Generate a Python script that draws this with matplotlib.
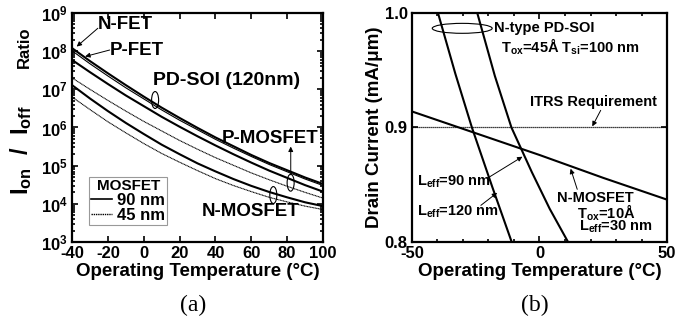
import math
import matplotlib
matplotlib.use("Agg")
import matplotlib.pyplot as plt
from matplotlib.patches import Ellipse
from matplotlib.lines import Line2D
from matplotlib.ticker import FuncFormatter, LogLocator, MultipleLocator

plt.rcParams['font.family'] = 'Liberation Sans'
plt.rcParams['font.weight'] = 'bold'
plt.rcParams['axes.labelweight'] = 'bold'
plt.rcParams['axes.unicode_minus'] = False
plt.rcParams['mathtext.fontset'] = 'custom'
plt.rcParams['mathtext.rm'] = 'Liberation Sans:bold'
plt.rcParams['mathtext.it'] = 'Liberation Sans:bold'
plt.rcParams['mathtext.bf'] = 'Liberation Sans:bold'

# (a) Ion/Ioff ratio vs temperature  (values are log10 of the ratio)
temp_a = [-40, -30, -20, -10, 0, 10, 20, 30, 40, 50, 60, 70, 80, 90, 100]
soi_nfet = [8.08, 7.74, 7.42, 7.11, 6.81, 6.52, 6.25, 5.99, 5.74, 5.51, 5.28, 5.07, 4.88, 4.69, 4.52]
soi_pfet = [8.01, 7.67, 7.35, 7.04, 6.75, 6.46, 6.19, 5.94, 5.69, 5.46, 5.24, 5.03, 4.84, 4.65, 4.48]
pmos_90 = [7.77, 7.45, 7.14, 6.84, 6.56, 6.28, 6.02, 5.77, 5.53, 5.30, 5.08, 4.87, 4.68, 4.49, 4.32]
pmos_45 = [7.30, 7.00, 6.71, 6.43, 6.16, 5.91, 5.66, 5.43, 5.21, 5.01, 4.81, 4.63, 4.46, 4.30, 4.15]
nmos_90 = [7.11, 6.76, 6.43, 6.12, 5.83, 5.55, 5.30, 5.06, 4.85, 4.65, 4.47, 4.31, 4.17, 4.04, 3.94]
nmos_45 = [6.80, 6.47, 6.15, 5.86, 5.58, 5.32, 5.09, 4.87, 4.66, 4.48, 4.32, 4.17, 4.05, 3.94, 3.85]

# (b) drain current vs temperature (mA/um)
temp_nmos = [-50, -25, 0, 25, 50]
id_nmos = [0.914, 0.895, 0.876, 0.856, 0.837]
temp_120 = [-39.8, -33, -26.5, -18.5, -10.9]
id_120 = [1.0, 0.947, 0.9, 0.848, 0.8]
temp_90 = [-24.4, -17.5, -11, -3, 4, 11.2]
id_90 = [1.0, 0.945, 0.9, 0.861, 0.829, 0.8]
itrs = 0.9

fig = plt.figure(figsize=(6.88, 3.28), dpi=100)
ax1 = fig.add_axes([0.1047, 0.2622, 0.3648, 0.6982])
ax2 = fig.add_axes([0.5988, 0.2622, 0.3707, 0.6982])

def p10(vals):
    return [10 ** v for v in vals]

thick = 1.5
thin = 0.8
ax1.plot(temp_a, p10(soi_nfet), color='k', lw=thick)
ax1.plot(temp_a, p10(soi_pfet), color='k', lw=thin)
ax1.plot(temp_a, p10(pmos_90), color='k', lw=thick)
ax1.plot(temp_a, p10(pmos_45), color='k', lw=thin, ls=(0, (1, 0.4)))
ax1.plot(temp_a, p10(nmos_90), color='k', lw=thick)
ax1.plot(temp_a, p10(nmos_45), color='k', lw=thin, ls=(0, (1, 0.4)))

ax1.set_yscale('log')
ax1.set_xlim(-40, 100)
ax1.set_ylim(1e3, 1e9)
ax1.set_xticks(range(-40, 101, 20))
ax1.yaxis.set_major_locator(LogLocator(base=10, numticks=10))
ax1.yaxis.set_minor_locator(LogLocator(base=10, subs=range(2, 10), numticks=10))
ax1.yaxis.set_major_formatter(FuncFormatter(lambda v, p: r'$10^{%d}$' % round(math.log10(v))))
ax1.set_xlabel('Operating Temperature (°C)', fontsize=13.5, labelpad=1)
ax1.text(-0.205, 0.40, r'$I_{on}$  /  $I_{off}$', transform=ax1.transAxes, rotation=90,
         ha='center', va='center', fontsize=17)
ax1.text(-0.19, 0.85, 'Ratio', transform=ax1.transAxes, rotation=90,
         ha='center', va='center', fontsize=12)

arrow = dict(arrowstyle='-|>', color='k', lw=0.7, mutation_scale=7, shrinkA=0, shrinkB=0)
ax1.text(-25.5, 10 ** 8.69, 'N-FET', fontsize=13.5, ha='left', va='center')
ax1.annotate('', xy=(-37.4, 10 ** 8.12), xytext=(-25.6, 10 ** 8.6), arrowprops=arrow)
ax1.text(-18.8, 10 ** 8.03, 'P-FET', fontsize=13.5, ha='left', va='center')
ax1.annotate('', xy=(-32.7, 10 ** 7.86), xytext=(-19.0, 10 ** 8.03), arrowprops=arrow)
ax1.text(5.2, 10 ** 7.24, 'PD-SOI (120nm)', fontsize=14, ha='left', va='center')
ax1.text(43.6, 10 ** 5.72, 'P-MOSFET', fontsize=13.5, ha='left', va='center')
ax1.annotate('', xy=(82, 10 ** 5.5), xytext=(82, 10 ** 4.76), arrowprops=arrow)
ax1.text(32.3, 10 ** 3.79, 'N-MOSFET', fontsize=13.5, ha='left', va='center')
for cx, cy in [(0.331, 0.620), (0.871, 0.259), (0.802, 0.205)]:
    ax1.add_patch(Ellipse((cx, cy), 0.028, 0.074, transform=ax1.transAxes,
                          fill=False, color='k', lw=0.8))

h90 = Line2D([], [], color='k', lw=1.2)
h45 = Line2D([], [], color='k', lw=1.0, ls=(0, (1, 0.6)))
leg = ax1.legend([h90, h45], ['90 nm', '45 nm'], title='MOSFET', loc='lower left',
                 bbox_to_anchor=(0.035, 0.04), frameon=True, fancybox=False,
                 edgecolor='gray', handlelength=1.3, handletextpad=0.3,
                 borderpad=0.1, labelspacing=0.0, fontsize=12,
                 title_fontproperties={'weight': 'bold', 'size': 11})
leg.get_frame().set_linewidth(0.8)

# (b)
ax2.plot(temp_nmos, id_nmos, color='k', lw=thick)
ax2.plot(temp_120, id_120, color='k', lw=thick)
ax2.plot(temp_90, id_90, color='k', lw=thick)
ax2.axhline(itrs, color='k', lw=0.9, ls=(0, (1, 0.6)))
ax2.set_xlim(-50, 50)
ax2.set_ylim(0.8, 1.0)
ax2.set_xticks([-50, 0, 50])
ax2.xaxis.set_minor_locator(MultipleLocator(10))
ax2.set_yticks([0.8, 0.9, 1.0])
ax2.yaxis.set_major_formatter(FuncFormatter(lambda v, p: '%.1f' % v))
ax2.set_xlabel('Operating Temperature (°C)', fontsize=13.5, labelpad=1)
ax2.set_ylabel('Drain Current (mA/μm)', fontsize=13.5, labelpad=1)

ax2.add_patch(Ellipse((-30.3, 0.9866), 23.5, 0.0087, fill=False, color='k', lw=0.8))
ax2.text(-17.8, 0.9866, 'N-type PD-SOI', fontsize=10.5, ha='left', va='center')
ax2.text(-15.2, 0.9706, 'T$_{ox}$=45Å T$_{si}$=100 nm', fontsize=10.5, ha='left', va='center')
ax2.text(21, 0.9225, 'ITRS Requirement', fontsize=10.5, ha='center', va='center')
ax2.annotate('', xy=(20.7, 0.901), xytext=(24, 0.915), arrowprops=arrow)
ax2.text(-48, 0.8527, 'L$_{eff}$=90 nm', fontsize=10.5, ha='left', va='center')
ax2.annotate('', xy=(-6.7, 0.8745), xytext=(-20.5, 0.8556), arrowprops=arrow)
ax2.text(-48, 0.8265, 'L$_{eff}$=120 nm', fontsize=10.5, ha='left', va='center')
ax2.annotate('', xy=(-16.6, 0.843), xytext=(-23, 0.832), arrowprops=arrow)
ax2.text(21.9, 0.838, 'N-MOSFET', fontsize=10.5, ha='center', va='center')
ax2.annotate('', xy=(12.2, 0.864), xytext=(14.8, 0.846), arrowprops=arrow)
ax2.text(26.3, 0.8253, 'T$_{ox}$=10Å', fontsize=10.5, ha='center', va='center')
ax2.text(29.8, 0.8133, 'L$_{eff}$=30 nm', fontsize=10.5, ha='center', va='center')

for ax in (ax1, ax2):
    for s in ax.spines.values():
        s.set_linewidth(1.6)
    ax.tick_params(which='both', direction='in', top=True, right=True, labelsize=12, width=1.2)
    ax.tick_params(which='major', length=4, pad=3)
    ax.tick_params(which='minor', length=2)

fig.text(0.2805, 0.07, '(a)', fontsize=17, family='Liberation Serif', weight='normal',
         ha='center', va='center')
fig.text(0.778, 0.07, '(b)', fontsize=17, family='Liberation Serif', weight='normal',
         ha='center', va='center')

fig.savefig('out.png', dpi=100)
